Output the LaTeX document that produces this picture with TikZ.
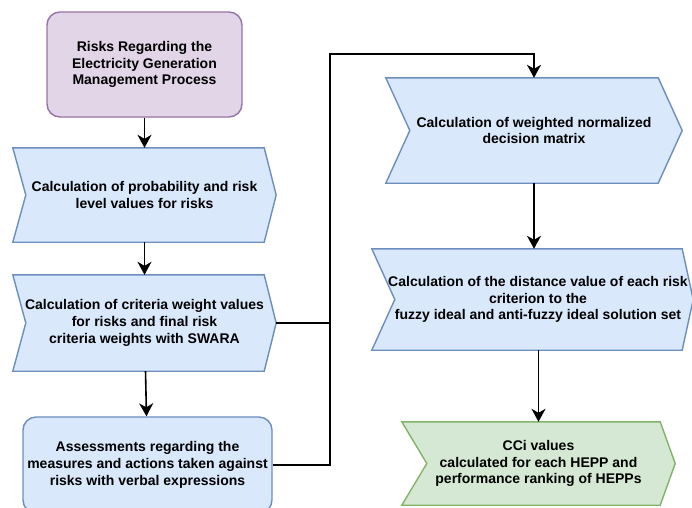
\documentclass[tikz,border=0pt]{standalone}
\usepackage{fontspec}
\setmainfont{Liberation Sans}
\usetikzlibrary{arrows.meta,positioning,backgrounds}

\definecolor{purpfill}{HTML}{E1D5E7}
\definecolor{purpline}{HTML}{9673A6}
\definecolor{bluefill}{HTML}{DAE8FC}
\definecolor{blueline}{HTML}{6C8EBF}
\definecolor{greenfill}{HTML}{D5E8D4}
\definecolor{greenline}{HTML}{82B366}

\tikzset{
  stepbox/.style={
    inner sep=0pt,
    align=center,
    font=\bfseries\fontsize{14}{16.7}\selectfont
  },
  roundbox/.style={
    stepbox,
    rectangle,
    rounded corners=13pt,
    line width=1.4pt
  },
  link/.style={line width=1.6pt, draw=black},
  flow/.style={link, -{Stealth[length=13pt,width=14pt,inset=4pt]}}
}

% chevron drawn behind a named node: name, notch, tip, colours
\newcommand{\chev}[5]{%
  \begin{pgfonlayer}{background}
  \draw[line width=1.4pt, draw=#5, fill=#4]
    (#1.north west) -- ([xshift=-#3]#1.north east) -- (#1.east)
    -- ([xshift=-#3]#1.south east) -- (#1.south west)
    -- ([xshift=#2]#1.west) -- cycle;
  \end{pgfonlayer}}

\begin{document}
\begin{tikzpicture}[x=1pt,y=-1pt]
\useasboundingbox (0,0) rectangle (692,507);
\begin{scope}
\clip (0,0) rectangle (692,507);

% left column
\node[roundbox, draw=purpline, fill=purpfill, minimum width=195pt, minimum height=105pt]
  (risks) at (144.5,64.5)
  {Risks Regarding the\\Electricity Generation\\Management Process};

\node[stepbox, minimum width=263pt, minimum height=94pt]
  (prob) at (144.5,195)
  {Calculation of probability and risk\\level values for risks};
\chev{prob}{13pt}{12pt}{bluefill}{blueline}

\node[stepbox, minimum width=263pt, minimum height=96pt]
  (crit) at (144.5,323)
  {Calculation of criteria weight values\\for risks and final risk\\criteria weights with SWARA};
\chev{crit}{13pt}{12pt}{bluefill}{blueline}

\node[roundbox, draw=blueline, fill=bluefill, minimum width=249pt, minimum height=96pt]
  (assess) at (147.5,465)
  {Assessments regarding the\\measures and actions taken against\\risks with verbal expressions};

% right column
\node[stepbox, minimum width=296pt, minimum height=105pt]
  (weighted) at (534,130.5)
  {Calculation of weighted normalized\\decision matrix};
\chev{weighted}{24pt}{24pt}{bluefill}{blueline}

\node[stepbox, minimum width=321pt, minimum height=101pt]
  (distance) at (532.5,299.5)
  {\hspace*{11pt}Calculation of the distance value of each risk\\\hspace*{11pt}criterion to the\\\hspace*{11pt}fuzzy ideal and anti-fuzzy ideal solution set};
\chev{distance}{23pt}{11pt}{bluefill}{blueline}

\node[stepbox, minimum width=273pt, minimum height=83pt]
  (final) at (538.5,463.5)
  {CCi values\\calculated for each HEPP and\\performance ranking of HEPPs};
\chev{final}{25pt}{15pt}{greenfill}{greenline}

\coordinate (bus) at (330,54);

% connectors
\draw[flow] (risks) -- (prob);
\draw[flow] (prob) -- (crit);
\draw[flow] (crit) -- (assess);
\draw[link] (crit.east) -- (crit.east -| bus);
\draw[flow] (assess.east) -| (bus) -| (weighted.north);
\draw[flow] (weighted) -- (weighted.south |- distance.north);
\draw[flow] (distance.south -| final) -- (final);
\end{scope}
\end{tikzpicture}
\end{document}
